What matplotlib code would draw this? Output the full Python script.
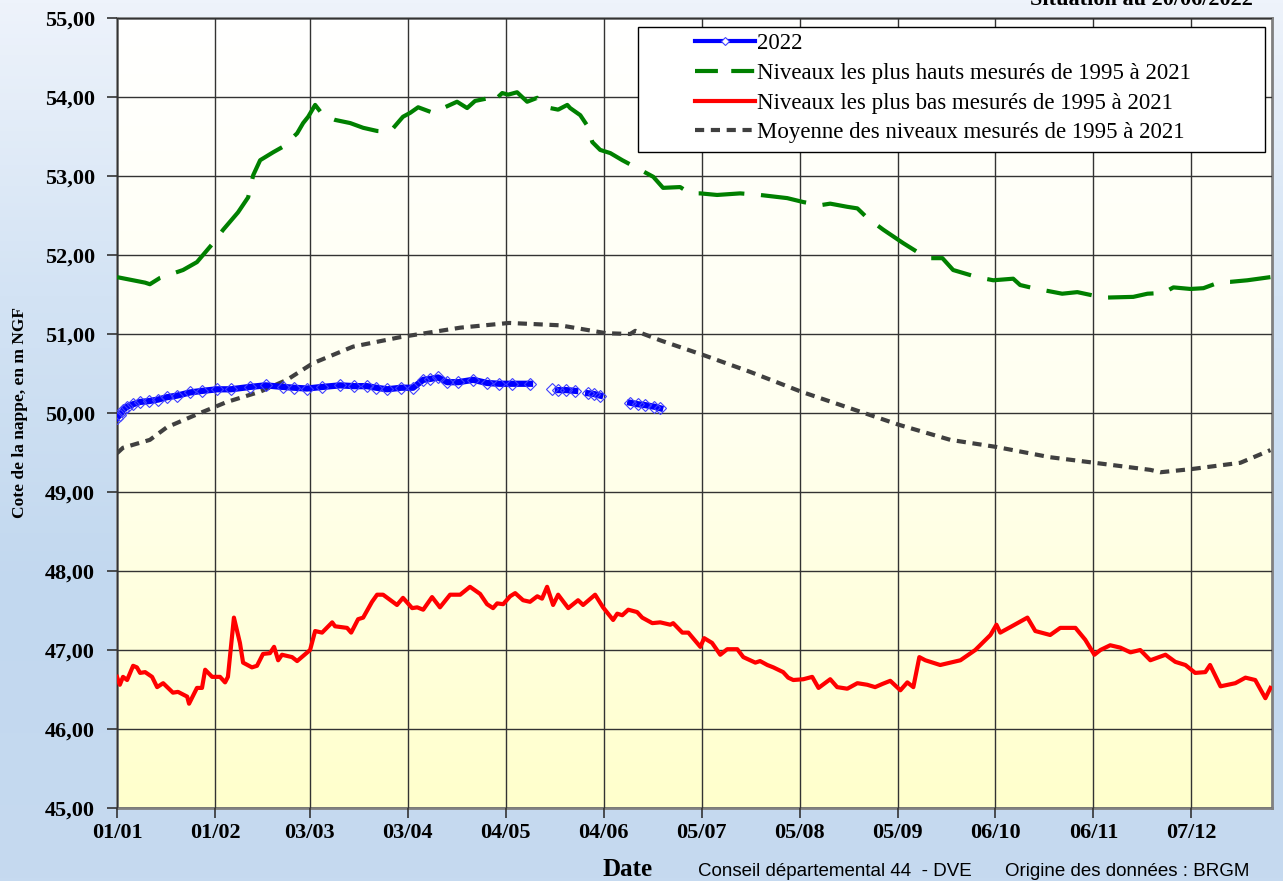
import matplotlib.pyplot as plt
import matplotlib.patches as mpatches
from matplotlib.lines import Line2D
import numpy as np
from matplotlib.colors import LinearSegmentedColormap

# jours depuis le 01/01
tick_days = [0, 31, 61, 92, 123, 154, 185, 216, 247, 278, 309, 340]
tick_labels = ["01/01", "01/02", "03/03", "03/04", "04/05", "04/06",
               "05/07", "05/08", "05/09", "06/10", "06/11", "07/12"]

# 2022 (nan = pas de mesure)
j2022 = [0, 1, 2, 3.2, 5, 7.3, 10, 13, 15.8, 19, 23.1, 27, 31.7, 36, 42.1, 47, 52.5, 56,
         60.1, 65, 70.6, 75, 79.1, 82, 85.5, 90, 93.7, 96.9, 99, 101.6, 104.5, 108, 112.7,
         117.1, 121, 125, 130.7, np.nan, 137.7, np.nan, 139.5, 142.1, 145, np.nan,
         149.1, 151, 152.9, np.nan, 162.4, 165, 167.1, 170, 171.9]
n2022 = [49.94, 49.98, 50.04, 50.08, 50.11, 50.14, 50.15, 50.17, 50.20, 50.22, 50.26, 50.28,
         50.30, 50.30, 50.33, 50.35, 50.33, 50.32, 50.31, 50.33, 50.35, 50.34, 50.34, 50.32,
         50.30, 50.32, 50.32, 50.42, 50.43, 50.45, 50.39, 50.39, 50.42, 50.38, 50.37, 50.37,
         50.37, np.nan, 50.30, np.nan, 50.29, 50.29, 50.28, np.nan, 50.25, 50.24, 50.22,
         np.nan, 50.13, 50.11, 50.10, 50.08, 50.06]

# niveaux les plus hauts 1995-2021
j_haut = [0, 8.9, 10.4, 13.6, 20.9, 25.3, 30.4, 33.6, 38.3, 41.5, 43.1, 45.3, 49.4, 52.5, 57.0,
          58.9, 60.5, 62.7, 65.2, 69.0, 73.8, 77.9, 82.3, 86.4, 90.5, 92.8, 95.3, 100.0, 103.2,
          107.6, 110.8, 113.3, 118.1, 119.0, 121.9, 123.8, 126.6, 129.8, 133.0, 137.1, 139.6,
          142.5, 143.4, 146.6, 149.1, 150.4, 152.9, 156.1, 159.9, 164.6, 169.7, 172.8, 178.2,
          181.4, 184.6, 189.9, 197.2, 203.5, 212.1, 217.2, 222.5, 225.7, 231.1, 234.3, 237.4,
          242.5, 248.8, 253.2, 257.4, 261.2, 264.6, 272.2, 277.3, 283.6, 285.8, 290.0, 299.1,
          303.9, 312.1, 321.6, 326.1, 331.1, 334.3, 339.7, 343.8, 349.2, 352.3, 357.7, 365]
n_haut = [51.72, 51.65, 51.63, 51.71, 51.81, 51.91, 52.15, 52.32, 52.54, 52.73, 53.01, 53.20,
          53.30, 53.37, 53.54, 53.67, 53.75, 53.90, 53.77, 53.71, 53.67, 53.61, 53.57, 53.56,
          53.75, 53.80, 53.87, 53.80, 53.86, 53.94, 53.86, 53.95, 53.99, 53.94, 54.05, 54.03,
          54.06, 53.94, 53.99, 53.86, 53.84, 53.90, 53.86, 53.77, 53.62, 53.43, 53.33, 53.29,
          53.20, 53.10, 52.99, 52.85, 52.86, 52.78, 52.78, 52.76, 52.78, 52.76, 52.72, 52.67,
          52.63, 52.65, 52.61, 52.59, 52.47, 52.32, 52.15, 52.04, 51.96, 51.96, 51.81, 51.72,
          51.68, 51.70, 51.62, 51.58, 51.51, 51.53, 51.46, 51.47, 51.51, 51.52, 51.59, 51.57,
          51.58, 51.66, 51.66, 51.68, 51.72]

# niveaux les plus bas 1995-2021
j_bas = [0, 0.9, 1.9, 3.2, 5.1, 6.3, 7.3, 8.9, 11.1, 12.7, 14.6, 17.7, 19.3, 22.2, 22.8, 25.3,
         26.9, 27.9, 30.1, 32.6, 34.2, 35.1, 37.0, 38.9, 39.9, 42.7, 44.3, 46.2, 48.4, 49.7,
         51.0, 52.2, 55.4, 57.0, 61.1, 62.7, 64.9, 68.1, 69.0, 72.8, 74.1, 76.3, 77.9, 80.7,
         82.3, 84.2, 88.6, 90.5, 93.4, 95.0, 96.9, 99.7, 102.2, 105.4, 108.6, 111.7, 114.9,
         117.1, 119.0, 120.3, 122.2, 124.4, 126.0, 128.5, 130.7, 133.0, 134.5, 136.1, 138.0,
         139.6, 142.8, 145.9, 147.5, 151.3, 153.8, 157.0, 158.3, 159.9, 161.8, 164.6, 166.2,
         169.4, 171.9, 175.1, 176.0, 178.9, 180.8, 184.6, 185.8, 188.3, 190.9, 193.1, 196.3,
         198.2, 202.0, 203.5, 205.8, 207.7, 210.8, 212.4, 214.0, 217.2, 220.0, 222.0, 225.7,
         227.9, 231.1, 234.3, 237.4, 239.9, 242.2, 244.7, 247.9, 250.1, 252.0, 253.9, 255.8,
         260.5, 266.9, 271.6, 276.4, 278.3, 279.5, 282.7, 288.1, 290.6, 295.3, 298.5, 303.3,
         306.4, 309.3, 311.2, 314.3, 317.5, 320.7, 323.8, 327.0, 331.8, 334.9, 338.1, 341.2,
         344.4, 345.9, 349.2, 353.9, 357.1, 360.2, 363.4, 365]
n_bas = [46.66, 46.56, 46.66, 46.62, 46.80, 46.78, 46.71, 46.72, 46.66, 46.53, 46.58, 46.46,
         46.47, 46.41, 46.32, 46.52, 46.52, 46.75, 46.66, 46.66, 46.59, 46.66, 47.41, 47.09,
         46.84, 46.78, 46.80, 46.95, 46.96, 47.04, 46.87, 46.94, 46.91, 46.86, 47.00, 47.24,
         47.22, 47.35, 47.30, 47.28, 47.22, 47.39, 47.41, 47.61, 47.70, 47.70, 47.57, 47.66,
         47.53, 47.54, 47.51, 47.67, 47.54, 47.70, 47.70, 47.80, 47.71, 47.58, 47.53, 47.59,
         47.58, 47.68, 47.72, 47.63, 47.61, 47.68, 47.65, 47.80, 47.57, 47.70, 47.53, 47.63,
         47.57, 47.70, 47.54, 47.38, 47.46, 47.44, 47.51, 47.48, 47.41, 47.34, 47.35, 47.32,
         47.34, 47.22, 47.22, 47.04, 47.15, 47.09, 46.94, 47.01, 47.01, 46.91, 46.84, 46.86,
         46.81, 46.78, 46.72, 46.65, 46.62, 46.63, 46.66, 46.52, 46.63, 46.53, 46.51, 46.58,
         46.56, 46.53, 46.57, 46.61, 46.49, 46.59, 46.53, 46.91, 46.87, 46.81, 46.87, 47.00,
         47.19, 47.32, 47.22, 47.29, 47.41, 47.24, 47.19, 47.28, 47.28, 47.13, 46.94, 47.00,
         47.06, 47.03, 46.97, 47.00, 46.87, 46.94, 46.85, 46.81, 46.71, 46.72, 46.81, 46.54,
         46.58, 46.65, 46.62, 46.39, 46.52]

# moyenne 1995-2021
j_moy = [0, 1.9, 10.4, 15.8, 26.3, 34.8, 45.3, 53.8, 62.0, 74.7, 89.6, 108.6, 124.1, 140.2,
         154.8, 162.4, 164.0, 171.9, 185.8, 200.4, 216.5, 232.0, 247.5, 263.7, 278.3, 295.3,
         309.3, 327.0, 330.2, 340.0, 355.5, 365]
n_moy = [49.49, 49.56, 49.66, 49.82, 50.00, 50.14, 50.27, 50.42, 50.63, 50.84, 50.96, 51.08,
         51.14, 51.11, 51.01, 51.00, 51.04, 50.92, 50.73, 50.52, 50.27, 50.06, 49.85, 49.66,
         49.57, 49.44, 49.37, 49.28, 49.25, 49.29, 49.37, 49.53]

fig = plt.figure(figsize=(12.83, 8.81), dpi=100)

# fond bleu degrade
bg = fig.add_axes([0, 0, 1, 1], zorder=-2)
bg.axis("off")
cmap_bg = LinearSegmentedColormap.from_list("bg", ["#eef3fb", "#d3e3f4", "#c2d8ef", "#c6daf0"])
bg.imshow(np.linspace(0, 1, 256).reshape(-1, 1), cmap=cmap_bg, aspect="auto",
          extent=[0, 1, 0, 1], transform=bg.transAxes)

ax = fig.add_axes([117 / 1283, 1 - 808 / 881, 1155 / 1283, 790 / 881])
cmap_ax = LinearSegmentedColormap.from_list("ax", ["#ffffff", "#fffff0", "#ffffcc"])
ax.imshow(np.linspace(0, 1, 256).reshape(-1, 1), cmap=cmap_ax, aspect="auto",
          extent=[0, 1, 0, 1], transform=ax.transAxes, zorder=0)

ax.plot(j2022, n2022, color="#0000ff", lw=4.5, marker="D", ms=6.5, mfc="none",
        mec="#4040ff", mew=0.8, zorder=5)
ax.plot(j_haut, n_haut, color="#008000", lw=3, dashes=(11, 4), zorder=4)
ax.plot(j_bas, n_bas, color="#ff0000", lw=3, zorder=4)
ax.plot(j_moy, n_moy, color="#404040", lw=3, dashes=(2.2, 1.6), zorder=4)

ax.set_xlim(0, 365.5)
ax.set_ylim(45, 55)
ax.set_xticks(tick_days)
ax.set_xticklabels(tick_labels)
yt = np.arange(45, 56)
ax.set_yticks(yt)
ax.set_yticklabels(["%d,00" % v for v in yt])
ax.grid(True, color="#333333", lw=1, zorder=1)
ax.set_axisbelow(False)
for t in ax.get_xticklabels() + ax.get_yticklabels():
    t.set_fontfamily("Liberation Serif")
    t.set_fontweight("bold")
    t.set_fontsize(16)
ax.tick_params(axis="both", direction="out", length=7, width=1.2, color="#333333")
ax.tick_params(axis="y", pad=9)
ax.tick_params(axis="x", pad=4)
for s in ax.spines.values():
    s.set_color("#808080")
    s.set_linewidth(2)

ax.set_ylabel("Cote de la nappe, en m NGF", fontfamily="Liberation Serif",
              fontweight="bold", fontsize=12.5, labelpad=12)

# legende (cadre dessine a part, comme dans Excel)
handles = [
    Line2D([], [], color="#0000ff", lw=3, marker="D", ms=4.5, mfc="white", mec="#4040ff", mew=0.8),
    Line2D([], [], color="#008000", lw=3, dashes=(5.5, 3.2)),
    Line2D([], [], color="#ff0000", lw=3),
    Line2D([], [], color="#404040", lw=3, dashes=(2.2, 1.6)),
]
labels = ["2022", "Niveaux les plus hauts mesurés de 1995 à 2021",
          "Niveaux les plus bas mesurés de 1995 à 2021",
          "Moyenne des niveaux mesurés de 1995 à 2021"]
ax.add_patch(mpatches.Rectangle((521 / 1155, 1 - 134 / 790), 627 / 1155, 125 / 790,
                                transform=ax.transAxes, facecolor="white",
                                edgecolor="black", lw=1, zorder=9))
leg = ax.legend(handles, labels, loc="upper left", bbox_to_anchor=(578 / 1155, 1 - 15 / 790),
                prop={"family": "Liberation Serif", "size": 16.5},
                frameon=False, handlelength=2.6, handletextpad=0.12,
                labelspacing=0.38, borderpad=0, borderaxespad=0)
leg.set_zorder(10)

fig.text(628 / 1283, 1 - 870 / 881, "Date", fontfamily="Liberation Serif",
         fontweight="bold", fontsize=18, ha="center", va="center")
fig.text(698 / 1283, 1 - 872 / 881, "Conseil départemental 44  - DVE",
         fontfamily="Liberation Sans", fontsize=13.5, ha="left", va="center")
fig.text(1005 / 1283, 1 - 872 / 881, "Origine des données : BRGM",
         fontfamily="Liberation Sans", fontsize=13.5, ha="left", va="center")
fig.text(1030 / 1283, 1.0, "Situation au 20/06/2022", fontfamily="Liberation Serif",
         fontweight="bold", fontsize=16, ha="left", va="center")

fig.savefig("out.png", dpi=100)
